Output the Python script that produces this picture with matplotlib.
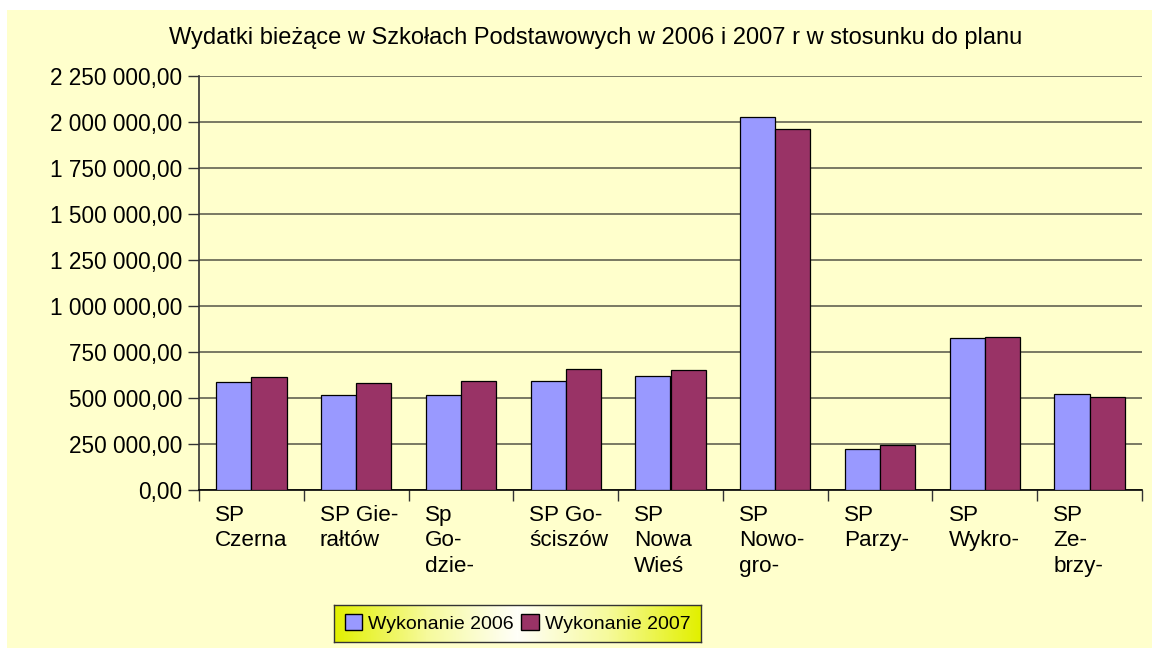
import matplotlib.pyplot as plt
import numpy as np
from matplotlib.colors import LinearSegmentedColormap
from matplotlib.patches import Rectangle, Patch
from matplotlib.ticker import FuncFormatter, MultipleLocator

plt.rcParams['font.family'] = ['Liberation Sans', 'DejaVu Sans']

# data
schools = ['SP\nCzerna', 'SP Gie-\nrałtów', 'Sp\nGo-\ndzie-', 'SP Go-\nściszów',
           'SP\nNowa\nWieś', 'SP\nNowo-\ngro-', 'SP\nParzy-', 'SP\nWykro-',
           'SP\nZe-\nbrzy-']
wyk_2006 = [586000, 516000, 516000, 592000, 619000, 2023000, 221000, 824000, 521000]
wyk_2007 = [613000, 581000, 592000, 657000, 651000, 1958000, 244000, 832000, 507000]
series_names = ['Wykonanie 2006', 'Wykonanie 2007']
series_colors = ['#9999FF', '#993366']

title = 'Wydatki bieżące w Szkołach Podstawowych w 2006 i 2007 r w stosunku do planu'


def pl_format(v, pos):
    s = '{:,.2f}'.format(v)
    return s.replace(',', ' ').replace('.', ',')


fig = plt.figure(figsize=(11.52, 6.48), dpi=100)
fig.patch.set_facecolor('white')
fig.patches.append(Rectangle((7 / 1152, 0.0), 1.0, 1 - 10 / 648,
                             transform=fig.transFigure, facecolor='#FFFFCC',
                             edgecolor='none', zorder=-10))

ax = fig.add_axes([199 / 1152, 1 - 490 / 648, (1142 - 199) / 1152, (490 - 75.6) / 648])
ax.set_facecolor('none')

x = np.arange(len(schools))
w = 0.336
ax.bar(x - w / 2, wyk_2006, w, color=series_colors[0], edgecolor='black', linewidth=0.9, zorder=3)
ax.bar(x + w / 2, wyk_2007, w, color=series_colors[1], edgecolor='black', linewidth=0.9, zorder=3)

ax.set_xlim(-0.5, len(schools) - 0.5)
ax.set_ylim(0, 2250000)
ax.yaxis.set_major_locator(MultipleLocator(250000))
ax.yaxis.set_major_formatter(FuncFormatter(pl_format))
ax.grid(axis='y', color='#6e6e5a', linewidth=1.3, zorder=0)

ax.set_xticks(np.arange(len(schools) + 1) - 0.5)
ax.set_xticklabels([])
ax.tick_params(axis='x', length=8, width=1, color='#333333')
ax.tick_params(axis='y', length=8, width=1, color='#333333', labelsize=16.3, pad=4)

for side in ['top', 'right']:
    ax.spines[side].set_visible(False)
ax.spines['left'].set_color('#333333')
ax.spines['bottom'].set_color('black')
ax.spines['left'].set_linewidth(1.2)
ax.spines['bottom'].set_linewidth(1.2)

for i, name in enumerate(schools):
    ax.text(i - w - 0.01, -0.035, name, transform=ax.get_xaxis_transform(),
            ha='left', va='top', fontsize=16.2, linespacing=1.3)

fig.text(0.517, 1 - 38 / 648, title, ha='center', va='center', fontsize=17)

# legend with a yellow-white-yellow gradient box
lax = fig.add_axes([334 / 1152, 1 - 642 / 648, (701 - 334) / 1152, 37 / 648])
grad = np.abs(np.linspace(-1, 1, 256))
cmap = LinearSegmentedColormap.from_list('yl', ['#FFFFF8', '#F6FA9A', '#E2F000'])
lax.imshow(grad[np.newaxis, :], aspect='auto', cmap=cmap, extent=[0, 1, 0, 1])
lax.set_xlim(0, 1)
lax.set_ylim(0, 1)
lax.set_xticks([])
lax.set_yticks([])
for s in lax.spines.values():
    s.set_color('#333333')
    s.set_linewidth(1.0)
handles = [Patch(facecolor=c, edgecolor='black', label=n) for c, n in zip(series_colors, series_names)]
lax.legend(handles=handles, loc='center', ncol=2, frameon=False, fontsize=14,
           handlelength=0.9, handleheight=0.9, handletextpad=0.3, columnspacing=0.4,
           borderpad=0.1)

fig.savefig('out.png', dpi=100)
